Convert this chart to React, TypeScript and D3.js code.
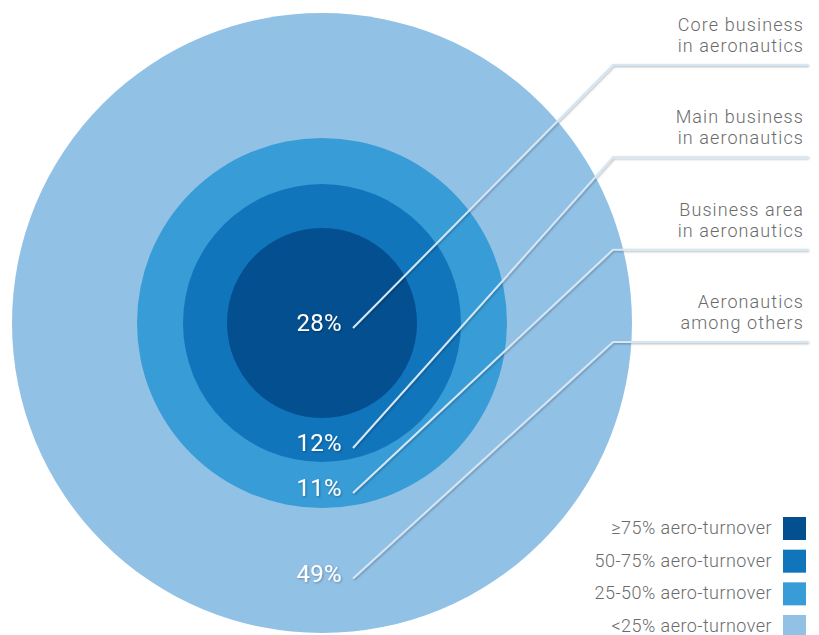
import React from 'react';
import * as d3 from 'd3';

// rings from the centre outwards
const categories = [
  'Core business\nin aeronautics',
  'Main business\nin aeronautics',
  'Business area\nin aeronautics',
  'Aeronautics\namong others',
];
const shares = [28, 12, 11, 49];
const legendLabels = ['≥75% aero-turnover', '50-75% aero-turnover', '25-50% aero-turnover', '<25% aero-turnover'];
const colors = ['#034f90', '#1175bc', '#389cd7', '#92c1e6'];

const W = 819;
const H = 635;
const cx = 322;
const cy = 323;
const FONT = 'Roboto, "DejaVu Sans", sans-serif';

export default function App() {
  const cumulative = d3.cumsum(shares);
  // radius of each ring boundary by cumulative share
  const rScale = d3.scaleLinear()
    .domain(Array.from(cumulative))
    .range([95, 139, 185, 310]);

  const radii = Array.from(cumulative).map(c => rScale(c));
  const labelRow = d3.scalePoint<number>()
    .domain(d3.range(categories.length))
    .range([65, 342]);
  const legendRow = d3.scalePoint<number>()
    .domain(d3.range(legendLabels.length))
    .range([528, 626]);

  // baseline of the percentage inside each ring
  const pctY = (i: number) => (i === 0 ? cy + 8 : cy + (radii[i - 1] + radii[i]) / 2 + 11);

  return (
    <svg width={W} height={H} style={{ position: 'absolute', left: 0, top: 0 }}>
      <defs>
        <filter id="sh" x="-20%" y="-20%" width="140%" height="140%">
          <feDropShadow dx="1" dy="1" stdDeviation="0.8" floodColor="#000" floodOpacity="0.3" />
        </filter>
      </defs>
      <rect width={W} height={H} fill="#fff" />
      {radii.slice().reverse().map((r, k) => {
        const i = radii.length - 1 - k;
        return <circle key={i} cx={cx} cy={cy} r={r} fill={colors[i]} />;
      })}

      {shares.map((s, i) => {
        const base = pctY(i);
        const ly = labelRow(i)!;
        const sx = cx + 31;
        const sy = base - 3;
        const lines = categories[i].split('\n');
        return (
          <g key={i}>
            <polyline
              points={`${sx},${sy} 613,${ly} 808,${ly}`}
              fill="none"
              stroke="#d5e6f4"
              strokeWidth={2}
              filter="url(#sh)"
            />
            <text x={cx + 20} y={base} textAnchor="end" fill="#fff" fontFamily={FONT}
              fontSize={24} letterSpacing={0.3} filter="url(#sh)">{s}%</text>
            {lines.map((t, j) => (
              <text key={j} x={804} y={ly - 34 + j * 21} textAnchor="end" fill="#6b6b6b"
                fontFamily={FONT} fontSize={18} fontWeight={300} letterSpacing={1.1}>{t}</text>
            ))}
          </g>
        );
      })}

      {legendLabels.map((l, i) => {
        const y = legendRow(i)!;
        return (
          <g key={i}>
            <rect x={783} y={y - 11} width={23} height={23} fill={colors[i]} />
            <text x={772} y={y + 6} textAnchor="end" fill="#6b6b6b" fontFamily={FONT}
              fontSize={18} fontWeight={300} letterSpacing={0.45}>{l}</text>
          </g>
        );
      })}
    </svg>
  );
}
